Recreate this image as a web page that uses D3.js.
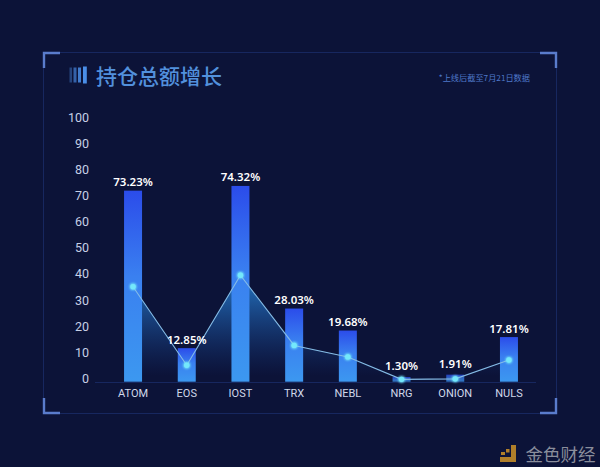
<!DOCTYPE html>
<html><head><meta charset="utf-8">
<script src="https://cdn.jsdelivr.net/npm/d3@7"></script>
<style>html,body{margin:0;padding:0;background:#0c1338;overflow:hidden}svg{display:block}</style>
</head><body><svg id="c" width="600" height="467"></svg>
<script>
const categories = ["ATOM","EOS","IOST","TRX","NEBL","NRG","ONION","NULS"];
const barValues = [73.2,12.85,75,28.03,19.6,1.8,2.7,17.1];
const barLabels = ["73.23%","12.85%","74.32%","28.03%","19.68%","1.30%","1.91%","17.81%"];
const lineValues = [36.4,6.3,40.8,13.9,9.5,0.9,1.1,8.3];
const yTicks = [0,10,20,30,40,50,60,70,80,90,100];
const titleText = "持仓总额增长";
const noteText = "*上线后截至7月21日数据";
const logoText = "金色财经";

const svg = d3.select("#c");
const defs = svg.append("defs");
const bg = defs.append("linearGradient").attr("id","barG").attr("x1",0).attr("y1",0).attr("x2",0).attr("y2",1);
bg.append("stop").attr("offset","0%").attr("stop-color","#2b4cea");
bg.append("stop").attr("offset","45%").attr("stop-color","#3a80f0");
bg.append("stop").attr("offset","100%").attr("stop-color","#3c98f0");
const ag = defs.append("linearGradient").attr("id","areaG").attr("gradientUnits","userSpaceOnUse").attr("x1",0).attr("x2",0).attr("y1",275).attr("y2",376);
ag.append("stop").attr("offset","0%").attr("stop-color","#2a8ce0").attr("stop-opacity",0.85);
ag.append("stop").attr("offset","100%").attr("stop-color","#1a4aa0").attr("stop-opacity",0);
const glow = defs.append("filter").attr("id","glow").attr("x","-100%").attr("y","-100%").attr("width","300%").attr("height","300%");
glow.append("feGaussianBlur").attr("stdDeviation",1.2);

const x = d3.scaleBand().domain(categories).range([106.2,535.8]).paddingInner(0.665).paddingOuter(0.3325);
const y = d3.scaleLinear().domain([0,100]).range([381.7,120.7]);
const cx = c => x(c) + x.bandwidth()/2;

// frame
svg.append("rect").attr("x",43.5).attr("y",52.5).attr("width",513).attr("height",361)
  .attr("fill","none").attr("stroke","#17275f").attr("stroke-width",1);
const corner = "#5a7ccc";
["M44,68V53H60","M540,53H556V68","M44,398V413H60","M540,413H556V398"].forEach(d=>{
  svg.append("path").attr("d",d).attr("fill","none").attr("stroke",corner).attr("stroke-width",2.4);
});

// title
[[69.5,2.5,0.4,67.5,15],[73.5,3,0.65,67.5,15],[78,3,0.85,67.5,15],[83,3.8,1,66.5,17]].forEach(b=>{
  svg.append("rect").attr("x",b[0]).attr("y",b[3]).attr("width",b[1]).attr("height",b[4]).attr("fill","#4a8ee8").attr("opacity",b[2]);
});
svg.append("text").attr("x",96).attr("y",83.5).attr("font-family","'Noto Sans CJK SC'").attr("font-size",21).attr("font-weight",500).attr("fill","#5290dc").text(titleText);
svg.append("text").attr("x",530).attr("y",81).attr("text-anchor","end").attr("font-family","'Noto Sans CJK SC'").attr("font-size",8.2).attr("fill","#4f79c9").text(noteText);

// axes
const yAxis = svg.append("g").attr("transform","translate(89,0)")
  .call(d3.axisLeft(y).tickValues(yTicks).tickSize(0).tickPadding(0));
yAxis.select(".domain").remove();
yAxis.selectAll("text").attr("font-family","Roboto").attr("font-size",12.5).attr("fill","#c6d0e6").attr("dy","0.05em");
const xAxis = svg.append("g").attr("transform","translate(0,382)")
  .call(d3.axisBottom(x).tickSize(0).tickPadding(7));
xAxis.select(".domain").attr("stroke","#17275f").attr("d","M95,0.5H536");
xAxis.selectAll("text").attr("font-family","Roboto").attr("font-size",11).attr("fill","#d0d8ea");

// area under the line
const pts = categories.map((c,i)=>({c,v:lineValues[i]}));
svg.append("path").datum(pts).attr("fill","url(#areaG)")
  .attr("d",d3.area().x(d=>cx(d.c)).y0(y(0)).y1(d=>y(d.v)));

// bars
svg.append("g").selectAll("rect").data(categories).join("rect")
  .attr("x",c=>x(c)).attr("width",x.bandwidth())
  .attr("y",(c,i)=>y(barValues[i])).attr("height",(c,i)=>y(0)-y(barValues[i]))
  .attr("fill","url(#barG)").attr("opacity",(c,i)=>barValues[i]<5?0.75:1);

// line
svg.append("path").datum(pts).attr("fill","none").attr("stroke","#85bce6").attr("stroke-width",1.1)
  .attr("d",d3.line().x(d=>cx(d.c)).y(d=>y(d.v)));
svg.append("g").selectAll("circle").data(pts).join("circle")
  .attr("cx",d=>cx(d.c)).attr("cy",d=>y(d.v)).attr("r",3.4).attr("fill","#74e8fb").attr("filter","url(#glow)");
svg.append("g").selectAll("circle").data(pts).join("circle")
  .attr("cx",d=>cx(d.c)).attr("cy",d=>y(d.v)).attr("r",2.7).attr("fill","#74e8fb");

// labels
svg.append("g").selectAll("text").data(categories).join("text")
  .attr("x",cx).attr("y",(c,i)=>y(barValues[i])-(barValues[i]<5?7:4.5))
  .attr("text-anchor","middle").attr("font-family","'Noto Sans'").attr("font-size",11.5).attr("font-weight",600).attr("fill","#ffffff")
  .text((c,i)=>barLabels[i]);

// logo
svg.append("path").attr("d","M511,445h5v17h-16v-5h11z").attr("fill","#b07f2a");
svg.append("rect").attr("x",506).attr("y",449).attr("width",3.5).attr("height",3.5).attr("fill","#b07f2a");
svg.append("rect").attr("x",501).attr("y",452).attr("width",4).attr("height",3).attr("fill","#b07f2a");
svg.append("text").attr("x",525.5).attr("y",461).attr("font-family","'Noto Sans CJK SC'").attr("font-size",17.5).attr("fill","#8a8e9c").text(logoText);
</script></body></html>
